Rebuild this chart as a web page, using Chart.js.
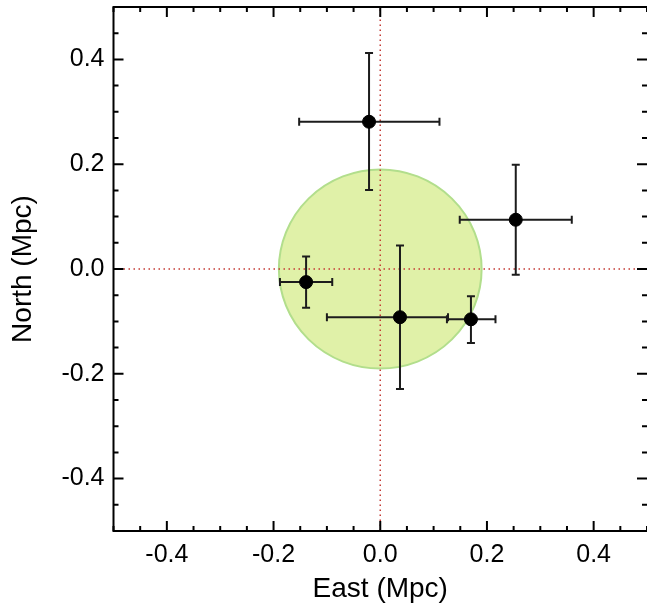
<!DOCTYPE html>
<html>
<head>
<meta charset="utf-8">
<script src="https://cdn.jsdelivr.net/npm/chart.js@4.4.1/dist/chart.umd.min.js"></script>
<style>
  html, body { margin: 0; padding: 0; background: #fff; }
</style>
</head>
<body>
<canvas id="posChart" width="647" height="607"></canvas>
<script>
// Member positions relative to the centre (Mpc)
const east  = [-0.021, 0.254, 0.170, 0.037, -0.139];
const north = [0.281, 0.094, -0.096, -0.092, -0.025];

// Error bar ends
const eastLo  = [-0.152, 0.149, 0.125, -0.100, -0.188];
const eastHi  = [0.111, 0.359, 0.216, 0.127, -0.090];
const northLo = [0.151, -0.011, -0.141, -0.229, -0.074];
const northHi = [0.412, 0.199, -0.052, 0.045, 0.024];

// Shaded region around the origin
const circleRadius = 0.19;

// Axis limits and labelled ticks
const axisMin = -0.5;
const axisMax = 0.5;
const tickLabels = [-0.4, -0.2, 0.0, 0.2, 0.4];

const FONT = "'Liberation Sans', Arial, sans-serif";

function labelFor(v) {
  if (Math.abs(v) < 1e-9) v = 0;
  const hit = tickLabels.some(t => Math.abs(t - v) < 1e-6);
  return hit ? v.toFixed(1) : '';
}

// Circle, error bars, frame and inward ticks
const decorations = {
  id: 'decorations',
  beforeDatasetsDraw(chart) {
    const { ctx, scales: { x, y } } = chart;
    const cx = x.getPixelForValue(0), cy = y.getPixelForValue(0);
    const rx = Math.abs(x.getPixelForValue(circleRadius) - cx);
    const ry = Math.abs(y.getPixelForValue(circleRadius) - cy);
    ctx.save();
    ctx.beginPath();
    ctx.ellipse(cx, cy, rx, ry, 0, 0, Math.PI * 2);
    ctx.fillStyle = 'rgb(224, 241, 168)';
    ctx.fill();
    ctx.lineWidth = 2;
    ctx.strokeStyle = 'rgb(178, 222, 140)';
    ctx.stroke();
    ctx.restore();
  },
  beforeDatasetDraw(chart, args) {
    if (args.index !== 0) return;
    const { ctx, scales: { x, y } } = chart;
    const cap = 4;
    ctx.save();
    ctx.strokeStyle = '#1c1c1c';
    ctx.lineWidth = 2;
    east.forEach((ex, i) => {
      const px = x.getPixelForValue(ex), py = y.getPixelForValue(north[i]);
      const x0 = x.getPixelForValue(eastLo[i]), x1 = x.getPixelForValue(eastHi[i]);
      const y0 = y.getPixelForValue(northLo[i]), y1 = y.getPixelForValue(northHi[i]);
      ctx.beginPath();
      ctx.moveTo(x0, py); ctx.lineTo(x1, py);
      ctx.moveTo(x0, py - cap); ctx.lineTo(x0, py + cap);
      ctx.moveTo(x1, py - cap); ctx.lineTo(x1, py + cap);
      ctx.moveTo(px, y0); ctx.lineTo(px, y1);
      ctx.moveTo(px - cap, y0); ctx.lineTo(px + cap, y0);
      ctx.moveTo(px - cap, y1); ctx.lineTo(px + cap, y1);
      ctx.stroke();
    });
    ctx.restore();
  },
  afterDraw(chart) {
    const { ctx, chartArea: a, scales: { x, y } } = chart;
    ctx.save();
    ctx.strokeStyle = '#000';
    ctx.lineWidth = 2;
    // left, bottom and top edges; the right edge sits at the canvas border
    ctx.beginPath();
    ctx.moveTo(a.right, a.top);
    ctx.lineTo(a.left, a.top);
    ctx.lineTo(a.left, a.bottom);
    ctx.lineTo(a.right, a.bottom);
    ctx.stroke();
    ctx.beginPath();
    x.ticks.forEach(t => {
      const px = x.getPixelForValue(t.value);
      const len = labelFor(t.value) ? 10 : 5;
      ctx.moveTo(px, a.bottom); ctx.lineTo(px, a.bottom - len);
      ctx.moveTo(px, a.top); ctx.lineTo(px, a.top + len);
    });
    y.ticks.forEach(t => {
      const py = y.getPixelForValue(t.value);
      const len = labelFor(t.value) ? 10 : 5;
      ctx.moveTo(a.left, py); ctx.lineTo(a.left + len, py);
      ctx.moveTo(a.right, py); ctx.lineTo(a.right - len, py);
    });
    ctx.stroke();
    ctx.restore();
  }
};

const dottedRed = {
  showLine: true,
  borderColor: 'rgb(196, 58, 52)',
  borderWidth: 1.5,
  borderDash: [1.5, 3.5],
  pointRadius: 0,
  order: 1
};

const posChart = new Chart(document.getElementById('posChart'), {
  type: 'scatter',
  data: {
    datasets: [
      {
        label: 'members',
        data: east.map((v, i) => ({ x: v, y: north[i] })),
        backgroundColor: '#000',
        borderColor: '#000',
        pointRadius: 6.5,
        order: 0
      },
      Object.assign({ label: 'y0', data: [{ x: axisMin, y: 0 }, { x: axisMax, y: 0 }] }, dottedRed),
      Object.assign({ label: 'x0', data: [{ x: 0, y: axisMin }, { x: 0, y: axisMax }] }, dottedRed)
    ]
  },
  options: {
    responsive: false,
    animation: false,
    devicePixelRatio: 1,
    layout: { autoPadding: false, padding: { top: 7, right: 0, left: 0, bottom: 0 } },
    plugins: { legend: { display: false }, tooltip: { enabled: false } },
    scales: {
      x: {
        type: 'linear',
        min: axisMin,
        max: axisMax,
        afterFit: s => {
          s.height = 76;
          s.paddingLeft = 0;
          s.paddingRight = 0;
        },
        grid: { display: false, drawTicks: false },
        border: { display: false },
        ticks: {
          stepSize: 0.05,
          autoSkip: false,
          maxRotation: 0,
          padding: 9,
          color: '#000',
          font: { family: FONT, size: 25 },
          callback: v => labelFor(v)
        },
        title: {
          display: true,
          text: 'East (Mpc)',
          color: '#000',
          font: { family: FONT, size: 28 },
          padding: { top: 0, bottom: 1 }
        }
      },
      y: {
        type: 'linear',
        min: axisMin,
        max: axisMax,
        afterFit: s => {
          s.width = 113.5;
          s.paddingTop = 0;
          s.paddingBottom = 0;
        },
        grid: { display: false, drawTicks: false },
        border: { display: false },
        ticks: {
          stepSize: 0.05,
          autoSkip: false,
          padding: 9,
          color: '#000',
          font: { family: FONT, size: 25 },
          callback: v => labelFor(v)
        },
        title: {
          display: true,
          text: 'North (Mpc)',
          color: '#000',
          font: { family: FONT, size: 28 },
          padding: { top: 6, bottom: 0 }
        }
      }
    }
  },
  plugins: [decorations]
});
</script>
</body>
</html>
